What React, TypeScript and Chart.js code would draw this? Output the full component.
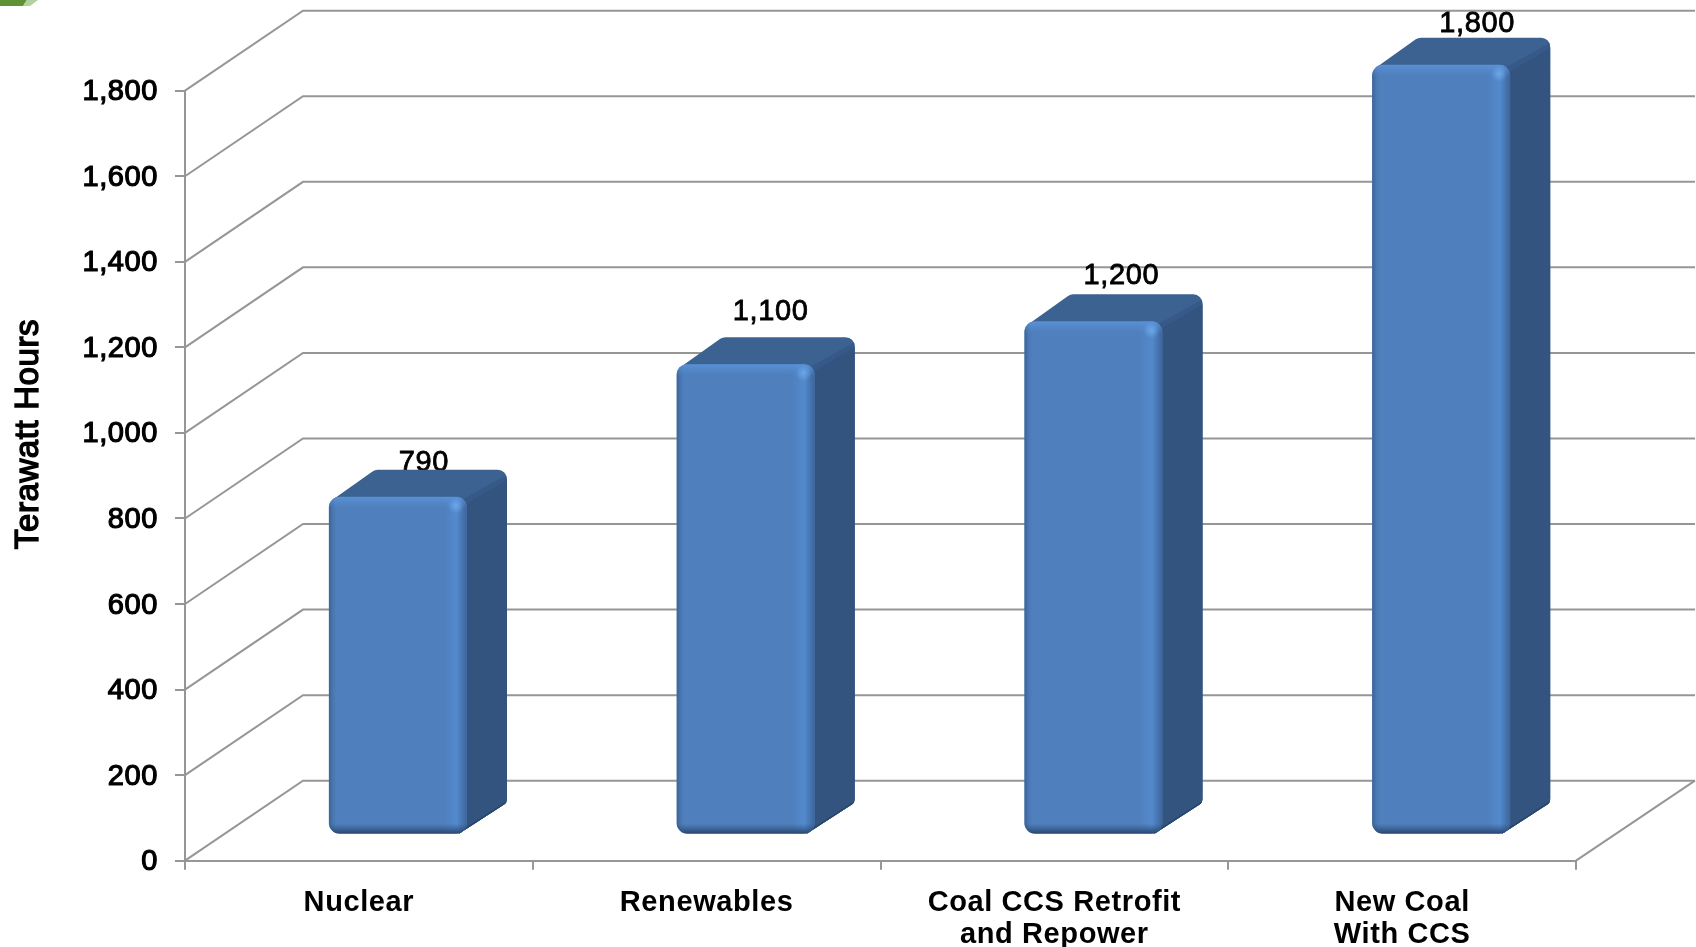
import React, { useEffect, useRef } from "react";
import { Chart, registerables } from "chart.js";

Chart.register(...registerables);

const categories = ["Nuclear", "Renewables", ["Coal CCS Retrofit", "and Repower"], ["New Coal", "With CCS"]];
const terawattHours = [790, 1100, 1200, 1800];
const valueLabels = ["790", "1,100", "1,200", "1,800"];
const yTitle = "Terawatt Hours";
const yMin = 0;
const yMax = 1800;
const yStep = 200;

const labelOffsetX = [26, 25, 28, 36];
const labelOffsetY = [-34, -52, -45, -41];

const WALL_DX = 118;
const WALL_DY = 80;
const BAR_SHIFT_X = 39;
const BAR_SHIFT_Y = 26;
const DEPTH_X = 40;
const DEPTH_Y = 27;
const GRID = "#969696";
const FONT = "'Liberation Sans', Arial, sans-serif";

// each point is [x, y, cornerRadius]
function roundedPoly(ctx: CanvasRenderingContext2D, pts: number[][]) {
  const n = pts.length;
  const mx = (pts[0][0] + pts[n - 1][0]) / 2;
  const my = (pts[0][1] + pts[n - 1][1]) / 2;
  ctx.beginPath();
  ctx.moveTo(mx, my);
  for (let i = 0; i < n; i++) {
    const p = pts[i];
    const q = pts[(i + 1) % n];
    ctx.arcTo(p[0], p[1], q[0], q[1], p[2]);
  }
  ctx.closePath();
}

const decor = {
  id: "decor",
  beforeDraw(chart: any) {
    const ctx: CanvasRenderingContext2D = chart.ctx;
    (ctx as any).letterSpacing = "0.6px";
    ctx.save();
    ctx.fillStyle = "#5d9235";
    ctx.beginPath();
    ctx.moveTo(0, 0);
    ctx.lineTo(27, 0);
    ctx.lineTo(23, 6);
    ctx.lineTo(0, 6);
    ctx.closePath();
    ctx.fill();
    ctx.fillStyle = "#b4d09c";
    ctx.beginPath();
    ctx.moveTo(27, 0);
    ctx.lineTo(38, 0);
    ctx.lineTo(30, 6);
    ctx.lineTo(23, 6);
    ctx.closePath();
    ctx.fill();
    ctx.restore();
  },
  beforeDatasetsDraw(chart: any) {
    const ctx: CanvasRenderingContext2D = chart.ctx;
    const { left, right, bottom } = chart.chartArea;
    const yScale = chart.scales.y;
    ctx.save();
    ctx.strokeStyle = GRID;
    ctx.lineWidth = 2;
    ctx.lineJoin = "miter";
    yScale.ticks.forEach((t: any) => {
      const y = yScale.getPixelForValue(t.value);
      ctx.beginPath();
      ctx.moveTo(left, y);
      ctx.lineTo(left + WALL_DX, y - WALL_DY);
      ctx.lineTo(chart.width - 1, y - WALL_DY);
      ctx.stroke();
    });
    ctx.beginPath();
    ctx.moveTo(chart.width - 1, bottom - WALL_DY);
    ctx.lineTo(right, bottom);
    ctx.stroke();

    ctx.fillStyle = "#000";
    ctx.strokeStyle = "#000";
    ctx.lineWidth = 0.8;
    ctx.font = `29px ${FONT}`;
    ctx.textAlign = "center";
    ctx.textBaseline = "middle";
    // axis title
    ctx.save();
    ctx.translate(29, 434);
    ctx.rotate(-Math.PI / 2);
    ctx.font = `33px ${FONT}`;
    ctx.lineWidth = 1.4;
    ctx.fillText(yTitle, 0, 0);
    ctx.strokeText(yTitle, 0, 0);
    ctx.restore();

    // value labels sit behind the bar tops
    const meta = chart.getDatasetMeta(0);
    meta.data.forEach((el: any, i: number) => {
      const x = el.x + BAR_SHIFT_X + labelOffsetX[i];
      const y = el.y - BAR_SHIFT_Y + labelOffsetY[i];
      ctx.fillText(valueLabels[i], x, y);
      ctx.strokeText(valueLabels[i], x, y);
    });
    ctx.restore();
  },
  beforeDatasetDraw(chart: any, args: any) {
    const ctx: CanvasRenderingContext2D = chart.ctx;
    const meta = chart.getDatasetMeta(args.index);
    ctx.save();
    ctx.translate(BAR_SHIFT_X, -BAR_SHIFT_Y);
    meta.data.forEach((el: any) => {
      const x1 = el.x - el.width / 2;
      const x2 = el.x + el.width / 2;
      const yt = el.y;
      const yb = el.base;
      const backX = x2 + DEPTH_X;
      const backY = yt - DEPTH_Y;
      // silhouette of top and side faces, in the colour of the top face
      ctx.save();
      roundedPoly(ctx, [
        [x1 + 3, yt + 3.6, 0],
        [x1 + 46, backY, 9],
        [backX, backY, 9],
        [backX, yb - 31, 7],
        [x2 - 8, yb, 0],
        [x2 - 8, yt + 6, 0],
      ]);
      ctx.fillStyle = "#3c6291";
      ctx.fill();
      ctx.clip();
      // soft edge, then side face
      ctx.fillStyle = "#37598a";
      ctx.beginPath();
      ctx.moveTo(x2 - 12, yt + 7);
      ctx.lineTo(backX + 2, backY + 4);
      ctx.lineTo(backX + 2, yb);
      ctx.lineTo(x2 - 12, yb + 4);
      ctx.closePath();
      ctx.fill();
      ctx.fillStyle = "#32547e";
      ctx.beginPath();
      ctx.moveTo(x2 - 12, yt + 14);
      ctx.lineTo(backX + 2, backY + 9);
      ctx.lineTo(backX + 2, yb);
      ctx.lineTo(x2 - 12, yb + 4);
      ctx.closePath();
      ctx.fill();
      // dark rim along the lower edge of the side face
      ctx.strokeStyle = "#2a4668";
      ctx.lineWidth = 3;
      ctx.beginPath();
      ctx.moveTo(x2 - 8, yb);
      ctx.lineTo(backX, yb - 31);
      ctx.stroke();
      ctx.restore();
    });
  },
  afterDatasetDraw(chart: any, args: any) {
    const ctx: CanvasRenderingContext2D = chart.ctx;
    const meta = chart.getDatasetMeta(args.index);
    meta.data.forEach((el: any) => {
      const x1 = el.x - el.width / 2;
      const x2 = el.x + el.width / 2;
      const yt = el.y;
      const yb = el.base;
      ctx.save();
      ctx.beginPath();
      ctx.roundRect(x1, yt, x2 - x1, yb - yt, 11);
      ctx.clip();
      const band = (x0: number, y0: number, x: number, y: number, from: string, to: string, rx: number, ry: number, rw: number, rh: number) => {
        const g = ctx.createLinearGradient(x0, y0, x, y);
        g.addColorStop(0, from);
        g.addColorStop(1, to);
        ctx.fillStyle = g;
        ctx.fillRect(rx, ry, rw, rh);
      };
      band(x1, 0, x1 + 9, 0, "rgba(44,78,122,0.6)", "rgba(79,129,189,0)", x1, yt, 9, yb - yt);
      band(x2 - 24, 0, x2 - 10, 0, "rgba(84,140,210,0)", "rgba(84,140,210,0.8)", x2 - 24, yt, 14, yb - yt);
      band(x2 - 10, 0, x2, 0, "rgba(84,140,210,0.8)", "rgba(54,90,140,0.7)", x2 - 10, yt, 10, yb - yt);
      band(0, yt, 0, yt + 12, "rgba(92,148,218,0.85)", "rgba(84,140,210,0)", x1, yt, x2 - x1, 12);
      band(0, yb - 10, 0, yb, "rgba(44,78,122,0)", "rgba(38,66,104,0.95)", x1, yb - 10, x2 - x1, 10);
      const c = ctx.createRadialGradient(x2 - 11, yt + 9, 0, x2 - 11, yt + 9, 8);
      c.addColorStop(0, "rgba(110,170,235,0.9)");
      c.addColorStop(1, "rgba(110,170,235,0)");
      ctx.fillStyle = c;
      ctx.fillRect(x2 - 20, yt, 20, 18);
      ctx.restore();
    });
    ctx.restore();
  },
};

export default function App() {
  const ref = useRef<HTMLCanvasElement>(null);
  useEffect(() => {
    const chart = new Chart(ref.current as HTMLCanvasElement, {
      type: "bar",
      data: {
        labels: categories as any,
        datasets: [
          {
            label: yTitle,
            data: terawattHours,
            backgroundColor: "#4f7fbc",
            borderWidth: 0,
            borderRadius: 11,
            borderSkipped: false,
            categoryPercentage: 1,
            barPercentage: 0.397,
            clip: false as any,
          },
        ],
      },
      options: {
        animation: false,
        responsive: false,
        maintainAspectRatio: false,
        layout: { padding: { top: 90.7, right: 120, left: 0, bottom: 0 } },
        plugins: { legend: { display: false }, tooltip: { enabled: false } },
        scales: {
          x: {
            type: "category",
            offset: true,
            afterFit(s: any) {
              s.height = 947 - 90.7 - 770;
            },
            border: { color: GRID, width: 2 },
            grid: { offset: true, drawOnChartArea: false, drawTicks: true, tickLength: 9, color: GRID, lineWidth: 2 },
            ticks: {
              autoSkip: false,
              maxRotation: 0,
              minRotation: 0,
              padding: 17,
              color: "#000",
              font: { family: FONT, size: 29, weight: "bold", lineHeight: 1.12 },
            },
          },
          y: {
            min: yMin,
            max: yMax,
            afterFit(s: any) {
              s.width = 185;
            },
            border: { color: GRID, width: 2 },
            grid: { drawOnChartArea: false, drawTicks: true, tickLength: 10, color: GRID, lineWidth: 2 },
            ticks: {
              stepSize: yStep,
              padding: 17,
              labelOffset: 1.5,
              color: "#000",
              textStrokeColor: "#000",
              textStrokeWidth: 1.2,
              font: { family: FONT, size: 29 },
              callback: (v: any) => Number(v).toLocaleString("en-US"),
            },
          },
        },
      } as any,
      plugins: [decor as any],
    });
    return () => chart.destroy();
  }, []);
  return (
    <div style={{ position: "fixed", left: 0, top: 0, width: 1696, height: 947, background: "#fff" }}>
      <canvas ref={ref} width={1696} height={947} style={{ display: "block" }} />
    </div>
  );
}
